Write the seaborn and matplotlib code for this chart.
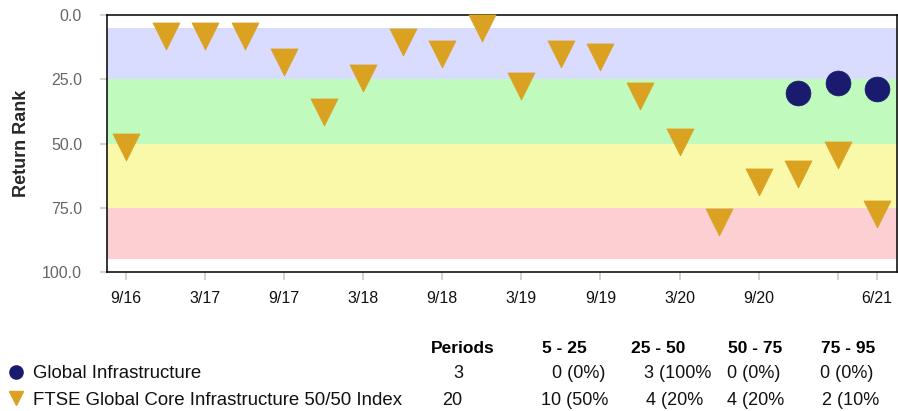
import pandas as pd
import numpy as np
import matplotlib.pyplot as plt
import seaborn as sns
from matplotlib.lines import Line2D

# quarterly periods shown on the x axis
quarters = ['9/16', '12/16', '3/17', '6/17', '9/17', '12/17', '3/18', '6/18',
            '9/18', '12/18', '3/19', '6/19', '9/19', '12/19', '3/20', '6/20',
            '9/20', '12/20', '3/21', '6/21']

# FTSE Global Core Infrastructure 50/50 Index return rank
index_rank = [51.5, 8.2, 8.2, 8.2, 18.3, 37.6, 24.4, 10.5, 15.0, 5.1,
              27.5, 15.0, 16.4, 31.4, 49.3, 80.4, 64.8, 61.7, 54.6, 77.4]

# Global Infrastructure return rank
fund_quarters = ['12/20', '3/21', '6/21']
fund_rank = [30.3, 26.4, 28.8]

tick_quarters = ['9/16', '3/17', '9/17', '3/18', '9/18', '3/19', '9/19',
                 '3/20', '9/20', '3/21', '6/21']
tick_labels = ['9/16', '3/17', '9/17', '3/18', '9/18', '3/19', '9/19',
               '3/20', '9/20', '', '6/21']

bands = [(5, 25), (25, 50), (50, 75), (75, 95)]
band_colors = ['#d9dcfe', '#c0fabd', '#f9f9a9', '#fcd0d3']

series_names = ['Global Infrastructure', 'FTSE Global Core Infrastructure 50/50 Index']
table_header = ['Periods', '5 - 25', '25 - 50', '50 - 75', '75 - 95']
table_rows = [
    ['3', '0 (0%)', '3 (100%', '0 (0%)', '0 (0%)'],
    ['20', '10 (50%', '4 (20%', '4 (20%', '2 (10%'],
]

FUND_COLOR = '#1a1a6e'
INDEX_COLOR = '#daa220'

sns.set_style('white')
plt.rcParams['font.family'] = ['Liberation Sans', 'DejaVu Sans']

pos = {q: i for i, q in enumerate(quarters)}
index_df = pd.DataFrame({'x': [pos[q] for q in quarters], 'rank': index_rank})
fund_df = pd.DataFrame({'x': [pos[q] for q in fund_quarters], 'rank': fund_rank})

W, H = 898, 411
fig = plt.figure(figsize=(W / 100, H / 100), dpi=100)
ax = fig.add_axes([107 / W, 1 - 272 / H, 790 / W, 257 / H])

for (lo, hi), c in zip(bands, band_colors):
    ax.axhspan(lo, hi, color=c, lw=0, zorder=0)

sns.scatterplot(data=index_df, x='x', y='rank', marker='v', s=380,
                color=INDEX_COLOR, edgecolor=INDEX_COLOR, linewidth=0.5,
                ax=ax, zorder=3, clip_on=False, legend=False)
sns.scatterplot(data=fund_df, x='x', y='rank', marker='o', s=320,
                color=FUND_COLOR, edgecolor=FUND_COLOR, linewidth=0.5,
                ax=ax, zorder=3, clip_on=False, legend=False)

ax.set_xlim(-0.48, 19.5)
ax.set_ylim(100, 0)
ax.set_yticks([0, 25, 50, 75, 100])
ax.set_yticklabels(['0.0', '25.0', '50.0', '75.0', '100.0'])
ax.set_xticks([pos[q] for q in tick_quarters])
ax.set_xticklabels(tick_labels)
ax.tick_params(axis='y', direction='out', length=5, width=1.2, color='#cccccc',
               pad=13, labelsize=11.5, labelcolor='#666666', left=True)
ax.tick_params(axis='x', direction='out', length=6, width=1.2, color='#cccccc',
               pad=8, labelsize=11.5, labelcolor='#111111', bottom=True)
ax.set_xlabel('')
ax.set_ylabel('Return Rank', fontsize=13, fontweight='bold')
ax.yaxis.set_label_coords((30 - 107) / 790, 0.5)
for sp in ax.spines.values():
    sp.set_color('black')
    sp.set_linewidth(1.1)

# summary table below the chart
def px(x, y):
    return x / W, 1 - y / H

header_x = [463, 564, 658, 755, 848]
for txt, x in zip(table_header, header_x):
    fig.text(*px(x, 348), txt, ha='center', va='center', fontsize=12.5,
             fontweight='bold', color='black')

row_y = [373, 400]
count_x = [[458, 552, 644, 727, 820], [452, 541, 646, 727, 822]]
for r, (name, y) in enumerate(zip(series_names, row_y)):
    fig.text(*px(33, y), name, ha='left', va='center', fontsize=13.4, color='#111111')
    for c, txt in enumerate(table_rows[r]):
        ha = 'center' if c == 0 else 'left'
        fig.text(*px(count_x[r][c], y), txt, ha=ha, va='center', fontsize=13,
                 color='#111111')

fig.add_artist(Line2D([16 / W], [1 - 372 / H], marker='o', markersize=9.5,
                      color=FUND_COLOR, transform=fig.transFigure))
fig.add_artist(Line2D([16 / W], [1 - 398 / H], marker='v', markersize=10,
                      color=INDEX_COLOR, transform=fig.transFigure))

fig.savefig('out.png', dpi=100)
